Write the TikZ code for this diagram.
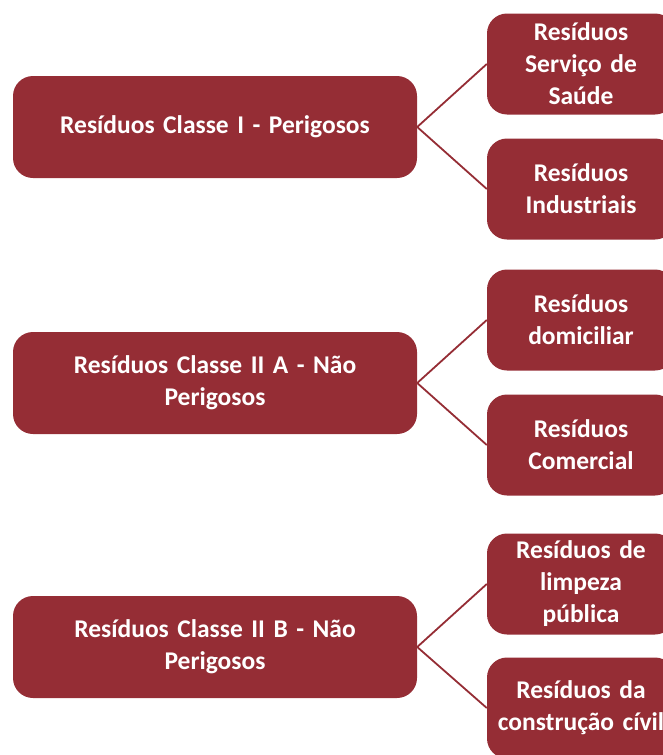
\documentclass[tikz,border=0pt]{standalone}
\usepackage{fontspec}
\setmainfont{Carlito}
\definecolor{vinho}{HTML}{952D35}
\begin{document}
\begin{tikzpicture}[x=1pt,y=-1pt]
\tikzset{classe/.style={draw=none, fill=vinho, rounded corners=20pt, text=white, font=\fontsize{25.5}{32}\selectfont\bfseries, align=center, inner sep=0pt},
  gde/.style={classe, minimum width=404pt, minimum height=102pt, text width=380pt},
  peq/.style={classe, minimum width=188pt, minimum height=101pt, text width=186pt},
  liga/.style={draw=vinho, line width=1.8pt}}
\useasboundingbox (0,0) rectangle (663,755);
\clip (0,0) rectangle (663,755);
\node[gde] (C1) at (215,127) {Resíduos Classe I - Perigosos};
\node[gde] (C2) at (215,383) {Resíduos Classe II A - Não\\Perigosos};
\node[gde] (C3) at (215,647) {Resíduos Classe II B - Não\\Perigosos};
\node[peq] (R1) at (581,64) {Resíduos\\Serviço de\\Saúde};
\node[peq] (R2) at (581,189) {Resíduos\\Industriais};
\node[peq] (R3) at (581,320) {Resíduos\\domiciliar};
\node[peq] (R4) at (581,445) {Resíduos\\Comercial};
\node[peq] (R5) at (581,584) {Resíduos de\\limpeza\\pública};
\node[peq] (R6) at (581,708) {Resíduos da\\construção cívil};
\draw[liga] (C1.east) -- (R1.west);
\draw[liga] (C1.east) -- (R2.west);
\draw[liga] (C2.east) -- (R3.west);
\draw[liga] (C2.east) -- (R4.west);
\draw[liga] (C3.east) -- (R5.west);
\draw[liga] (C3.east) -- (R6.west);
\end{tikzpicture}
\end{document}
